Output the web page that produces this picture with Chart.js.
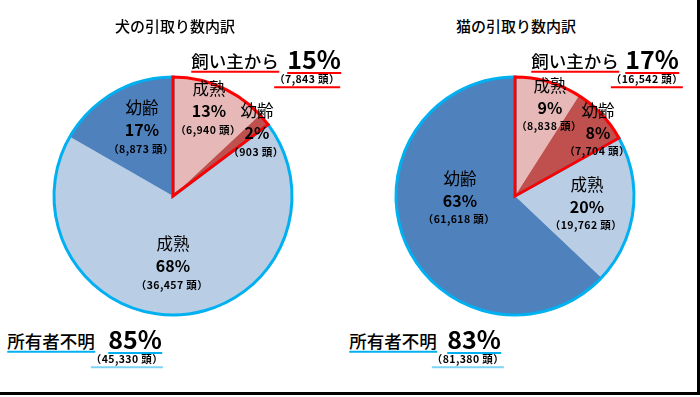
<!DOCTYPE html>
<html>
<head>
<meta charset="utf-8">
<script src="https://cdn.jsdelivr.net/npm/chart.js@4"></script>
<style>
  body { margin: 0; background: #fff; font-family: "Noto Sans CJK JP", sans-serif; color: #000; }
  #page { position: relative; width: 700px; height: 397px; overflow: hidden; }
  #frame { position: absolute; left: 0; top: 0; width: 697px; height: 392px; border-right: 3px solid #000; border-bottom: 3px solid #000; }
  .pie { position: absolute; top: 73px; width: 246px; height: 246px; }
  .t { position: absolute; white-space: nowrap; line-height: 1; transform: translate(-50%, -50%); }
  .title { font-size: 15px; font-weight: 500; }
  .lbl { font-size: 16.5px; }
  .pct { font-size: 16px; font-weight: 700; }
  .cnt { font-size: 10.5px; font-weight: 700; letter-spacing: 0.4px; }
  .big { font-size: 17.5px; font-weight: 500; }
  .bigpct { font-size: 25px; font-weight: 700; }
  .ul-red { border-bottom: 2px solid #ff0000; padding-bottom: 1px; }
  .ul-blue { border-bottom: 2px solid #00b0f0; padding-bottom: 1px; }
  .ul-lblue { border-bottom: 2px solid #7fd4f5; padding-bottom: 1px; }
</style>
</head>
<body>
<div id="page">
  <div id="frame"></div>
  <div class="pie" style="left:50px"><canvas id="dogChart"></canvas></div>
  <div class="pie" style="left:392px"><canvas id="catChart"></canvas></div>
</div>
<script>
// slices, clockwise from 12 o'clock
const sliceNames = ['成熟', '幼齢', '成熟', '幼齢'];
const sliceColors = ['#e6b9b8', '#c0504d', '#b9cde5', '#4f81bd'];

const dogCounts = [6940, 903, 36457, 8873];
const dogPercents = [13, 2, 68, 17];
const catCounts = [8838, 7704, 19762, 61618];
const catPercents = [9, 8, 20, 63];

// group totals: 飼い主から / 所有者不明
const groupNames = ['飼い主から', '所有者不明'];
const dogGroupCounts = [7843, 45330];
const dogGroupPercents = [15, 85];
const catGroupCounts = [16542, 81380];
const catGroupPercents = [17, 83];

const titles = ['犬の引取り数内訳', '猫の引取り数内訳'];

// outline each group (owner = red, unknown = cyan) around its slices
const groupOutline = {
    id: 'groupOutline',
    afterDatasetsDraw(chart) {
        const ctx = chart.ctx;
        const arcs = chart.getDatasetMeta(0).data;
        const groups = [
            { idx: [2, 3], color: '#00b0f0' },
            { idx: [0, 1], color: '#ff0000' }
        ];
        groups.forEach(g => {
            const first = arcs[g.idx[0]];
            const last = arcs[g.idx[g.idx.length - 1]];
            const p = first.getProps(['x', 'y', 'outerRadius', 'startAngle']);
            const end = last.getProps(['endAngle']).endAngle;
            ctx.save();
            ctx.beginPath();
            ctx.moveTo(p.x, p.y);
            ctx.arc(p.x, p.y, p.outerRadius, p.startAngle, end);
            ctx.closePath();
            ctx.lineWidth = 3;
            ctx.lineJoin = 'miter';
            ctx.strokeStyle = g.color;
            ctx.stroke();
            ctx.restore();
        });
    }
};

function makePie(id, counts) {
    const ctx = document.getElementById(id).getContext('2d');
    return new Chart(ctx, {
        type: 'pie',
        data: {
            labels: sliceNames,
            datasets: [{
                data: counts,
                backgroundColor: sliceColors,
                borderWidth: 0
            }]
        },
        options: {
            responsive: true,
            maintainAspectRatio: false,
            animation: false,
            layout: { padding: 4 },
            plugins: {
                legend: { display: false },
                tooltip: { enabled: false }
            }
        },
        plugins: [groupOutline]
    });
}

makePie('dogChart', dogCounts);
makePie('catChart', catCounts);

// text labels
const page = document.getElementById('page');
function addText(x, y, text, cls) {
    const d = document.createElement('div');
    d.className = 't ' + cls;
    d.style.left = x + 'px';
    d.style.top = y + 'px';
    d.textContent = text;
    page.appendChild(d);
    return d;
}
const fmt = n => n.toLocaleString('en-US');
const countText = n => '（' + fmt(n) + ' 頭）';

// label anchor points for each slice (x, y of name line)
const dogLabelPos = [[209, 88], [257, 110], [173, 243], [142, 107]];
const catLabelPos = [[550, 85], [598, 110], [587, 184], [460, 178]];

function addSliceLabels(pos, counts, percents, gaps) {
    pos.forEach((p, i) => {
        addText(p[0], p[1], sliceNames[i], 'lbl');
        addText(p[0], p[1] + gaps[0] + 1, percents[i] + '%', 'pct');
        addText(p[0] - 1, p[1] + gaps[0] + gaps[1] + 2, countText(counts[i]), 'cnt');
    });
}
addSliceLabels(dogLabelPos, dogCounts, dogPercents, [21, 19]);
addSliceLabels(catLabelPos, catCounts, catPercents, [21, 18]);

addText(175, 25, titles[0], 'title');
addText(516, 25, titles[1], 'title');

// group headlines
function addGroup(nameX, pctX, cntX, y, name, pct, cnt, ulMain, ulSub) {
    addText(nameX, y, name, 'big ' + ulMain);
    addText(pctX, y - 2, pct + '%', 'bigpct ' + ulMain);
    addText(cntX, y + 19, countText(cnt), 'cnt ' + ulSub);
}
addGroup(235, 314, 307, 62, groupNames[0], dogGroupPercents[0], dogGroupCounts[0], 'ul-red', 'ul-red');
addGroup(575, 652, 647, 62, groupNames[0], catGroupPercents[0], catGroupCounts[0], 'ul-red', 'ul-red');
addGroup(51, 135, 127, 342, groupNames[1], dogGroupPercents[1], dogGroupCounts[1], 'ul-blue', 'ul-lblue');
addGroup(393, 474, 468, 342, groupNames[1], catGroupPercents[1], catGroupCounts[1], 'ul-blue', 'ul-lblue');
</script>
</body>
</html>
